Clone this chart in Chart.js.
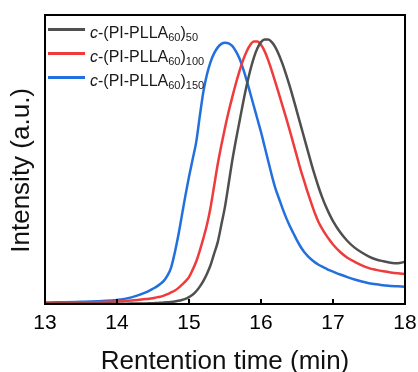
<!DOCTYPE html>
<html><head><meta charset="utf-8">
<script src="https://cdn.jsdelivr.net/npm/chart.js@4.4.0/dist/chart.umd.min.js"></script>
<style>html,body{margin:0;padding:0;background:#fff;}#wrap{width:418px;height:372px;}</style>
</head><body><div id="wrap"><canvas id="c" width="418" height="372"></canvas></div>
<script>
const times = [13.0,13.5,14.0,14.2,14.4,14.5,14.55,14.6,14.65,14.7,14.75,14.8,14.85,14.9,14.95,15.0,15.05,15.1,15.15,15.2,15.25,15.3,15.35,15.4,15.45,15.5,15.55,15.6,15.65,15.7,15.75,15.8,15.85,15.9,15.95,16.0,16.05,16.1,16.15,16.2,16.25,16.3,16.35,16.4,16.45,16.5,16.55,16.6,16.65,16.7,16.75,16.8,16.85,16.9,16.95,17.0,17.1,17.2,17.3,17.4,17.5,17.6,17.7,17.8,17.9,18.0];
const series50  = [0.1,0.1,0.1,0.15,0.2,0.3,0.35,0.4,0.5,0.6,0.7,0.85,1.1,1.4,1.8,2.4,3.2,4.4,6.0,8.0,10.5,13.5,17.5,21.5,27.5,33.7,41.5,49.5,56.5,63,69.5,75.5,80.8,85.2,88.5,90.6,91.5,91.5,90.6,88.8,86.2,83,79.3,75.3,71,66.5,62,57.5,53,48.5,44.3,40.4,36.9,33.8,31.1,28.7,24.8,21.8,19.5,17.8,16.4,15.4,14.8,14.3,14.1,14.6];
const series100 = [0.3,0.5,0.9,1.2,1.7,2.0,2.3,2.5,2.9,3.4,4.0,4.6,5.5,6.6,7.8,9.3,11.8,14.7,18.5,22.8,27.5,33.5,41,48.5,55,61,66.5,71.5,76.2,80.5,84.3,87.4,89.6,90.8,90.8,89.7,87.5,84.4,80.7,76.7,72.6,68.5,64.3,60,55.5,51,46.5,42.5,38.5,34.8,31.3,28.3,26,24,22.2,20.6,18,16,14.6,13.4,12.4,11.8,11.3,10.9,10.6,10.4];
const series150 = [0.5,0.8,1.4,2.3,4.0,5.3,6.0,6.9,8.0,9.8,12.5,17.5,23.5,30.5,37.5,44,50,56,65,73.5,79.5,83.8,86.8,88.8,90,90.4,90.2,89.3,87.5,85,81.5,77.5,73,68.5,64,59.5,54.5,49.5,44.5,40,36.5,33,29.8,27,24.5,22,19.8,18,16.6,15.4,14.4,13.6,12.9,12.3,11.7,11.2,10.2,9.3,8.5,7.8,7.2,6.8,6.5,6.2,6.1,6.0];
const xTicks = [13,14,15,16,17,18];
const seriesLabels = ['*c*-(PI-PLLA_{60})_{50}','*c*-(PI-PLLA_{60})_{100}','*c*-(PI-PLLA_{60})_{150}'];
const seriesColors = ['#4f4f4f','#ef3b3b','#2270de'];
const xTitle = 'Rentention time (min)';
const yTitle = 'Intensity (a.u.)';
const FONT = "'Liberation Sans', Arial, Helvetica, sans-serif";

function pts(arr){ return times.map((t,i)=>({x:t,y:arr[i]})); }

const framePlugin = {
  id:'frame',
  afterDraw(chart){
    const {ctx, chartArea:a, scales} = chart;
    ctx.save();
    ctx.strokeStyle = '#000';
    ctx.lineWidth = 2;
    ctx.strokeRect(a.left, a.top, a.right - a.left, a.bottom - a.top);
    ctx.beginPath();
    xTicks.forEach(v=>{
      const px = Math.round(scales.x.getPixelForValue(v));
      ctx.moveTo(px, a.bottom);
      ctx.lineTo(px, a.bottom - 5);
    });
    ctx.stroke();
    const x0 = a.left + 3, lineLen = 37, textX = a.left + 45;
    chart.data.datasets.forEach((ds, i)=>{
      const rowY = a.top + 14.5 + i*24;
      ctx.strokeStyle = ds.borderColor;
      ctx.lineWidth = 3;
      ctx.beginPath();
      ctx.moveTo(x0, rowY); ctx.lineTo(x0 + lineLen, rowY);
      ctx.stroke();
      const base = rowY + 8.5;
      let x = textX;
      ctx.fillStyle = '#1a1a1a';
      ctx.textBaseline = 'alphabetic';
      ctx.textAlign = 'left';
      const re = /\*([^*]+)\*|_\{([^}]+)\}|([^*_]+)/g;
      let m;
      while ((m = re.exec(ds.label)) !== null) {
        let txt, y = base;
        if (m[1]) { ctx.font = 'italic 16px ' + FONT; txt = m[1]; }
        else if (m[2]) { ctx.font = '11px ' + FONT; txt = m[2]; y = base + 3; }
        else { ctx.font = '16px ' + FONT; txt = m[3]; }
        ctx.fillText(txt, x, y);
        x += ctx.measureText(txt).width;
      }
    });
    ctx.restore();
  }
};

new Chart(document.getElementById('c'), {
  type:'line',
  data:{
    datasets:[
      {label:seriesLabels[0], data:pts(series50), borderColor:seriesColors[0]},
      {label:seriesLabels[1], data:pts(series100), borderColor:seriesColors[1]},
      {label:seriesLabels[2], data:pts(series150), borderColor:seriesColors[2]}
    ]
  },
  options:{
    responsive:false,
    animation:false,
    devicePixelRatio:1,
    layout:{padding:{left:0, top:15, right:13, bottom:0}},
    elements:{
      point:{radius:0},
      line:{borderWidth:2.5, cubicInterpolationMode:'monotone', fill:false}
    },
    plugins:{legend:{display:false}, tooltip:{enabled:false}},
    scales:{
      x:{
        type:'linear', min:13, max:18,
        grid:{display:false},
        border:{display:false},
        ticks:{stepSize:1, padding:-1, color:'#000', font:{family:FONT, size:21}, maxRotation:0},
        title:{display:true, text:xTitle, color:'#111', font:{family:FONT, size:26, lineHeight:0.8}, padding:0},
        afterFit(s){ s.height = 68; s.paddingRight = 0; s.paddingLeft = 0; }
      },
      y:{
        min:0, max:100,
        grid:{display:false},
        border:{display:false},
        ticks:{display:false},
        title:{display:true, text:yTitle + '\u00A0\u00A0\u00A0', color:'#111', font:{family:FONT, size:26, lineHeight:1.2}, padding:{top:6.4, bottom:0}},
        afterFit(s){ s.width = 45; }
      }
    }
  },
  plugins:[framePlugin]
});
</script>
</body></html>
